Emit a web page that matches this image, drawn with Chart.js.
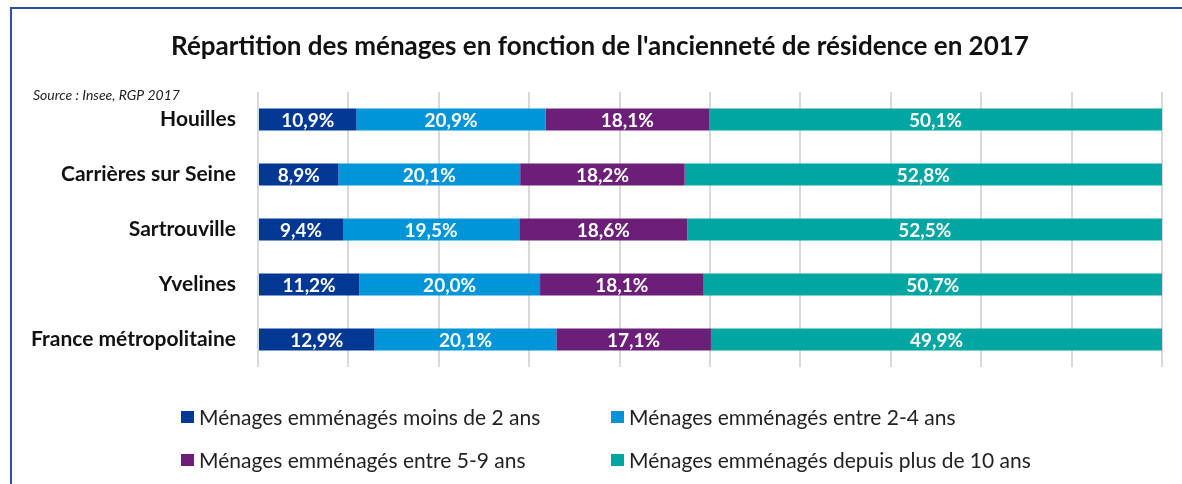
<!DOCTYPE html>
<html>
<head>
<meta charset="utf-8">
<script src="https://cdn.jsdelivr.net/npm/chart.js@4/dist/chart.umd.min.js"></script>
<style>
    body { margin: 0; background: #fff; font-family: Lato, sans-serif; }
    #wrap { position: relative; width: 1182px; height: 484px; overflow: hidden; }
    #frame { position: absolute; left: 10px; top: 7px; right: -5px; bottom: -5px;
        border-left: 2px solid #2f50a0; border-top: 2px solid #2f50a0; }
    #legend { position: absolute; left: 181px; top: 395px; display: grid;
        grid-template-columns: 430px auto; grid-auto-rows: 43px; font-size: 21px; color: #222; }
    #legend div { display: flex; align-items: center; }
    #legend span.box { width: 13px; height: 12px; margin-right: 5px; display: inline-block; }
</style>
</head>
<body>
<div id="wrap">
    <canvas id="myChart" width="1182" height="484"></canvas>
    <div id="frame"></div>
    <div id="legend"></div>
</div>
<script>
var categories = ["Houilles", "Carrières sur Seine", "Sartrouville", "Yvelines", "France métropolitaine"];
var seriesNames = [
    "Ménages emménagés moins de 2 ans",
    "Ménages emménagés entre 2-4 ans",
    "Ménages emménagés entre 5-9 ans",
    "Ménages emménagés depuis plus de 10 ans"
];
var lessThan2 = [10.9, 8.9, 9.4, 11.2, 12.9];
var from2to4 = [20.9, 20.1, 19.5, 20.0, 20.1];
var from5to9 = [18.1, 18.2, 18.6, 18.1, 17.1];
var moreThan10 = [50.1, 52.8, 52.5, 50.7, 49.9];
var colors = ["#003893", "#0094d9", "#6c1f78", "#00a6a2"];
var titleText = "Répartition des ménages en fonction de l'ancienneté de résidence en 2017";
var sourceText = "Source : Insee, RGP 2017";

var allSeries = [lessThan2, from2to4, from5to9, moreThan10];
var datasets = [];
for (var i = 0; i < allSeries.length; i++) {
    datasets.push({
        label: seriesNames[i],
        data: allSeries[i],
        backgroundColor: colors[i],
        borderWidth: 0,
        barPercentage: 0.4,
        categoryPercentage: 1
    });
}

function fmt(v) {
    return v.toFixed(1).replace(".", ",") + "%";
}

// title, source note and the white value labels in each segment
var labelsPlugin = {
    id: 'segmentLabels',
    afterDatasetsDraw: function (chart) {
        var ctx = chart.ctx;
        ctx.save();
        ctx.font = "bold 19px Lato";
        ctx.fillStyle = "#fff";
        ctx.textAlign = "center";
        ctx.textBaseline = "middle";
        chart.data.datasets.forEach(function (ds, di) {
            var meta = chart.getDatasetMeta(di);
            meta.data.forEach(function (bar, j) {
                var cx = (bar.x + bar.base) / 2;
                ctx.fillText(fmt(ds.data[j]), cx, bar.y + 1);
            });
        });

        ctx.font = "bold 26px Lato";
        ctx.fillStyle = "#111";
        ctx.fillText(titleText, 600, 47);

        ctx.font = "italic 14px Lato";
        ctx.fillStyle = "#222";
        ctx.textAlign = "left";
        ctx.fillText(sourceText, 33, 95);
        ctx.restore();
    }
};

var ctx = document.getElementById('myChart').getContext('2d');
var chart = new Chart(ctx, {
    type: 'bar',
    data: {
        labels: categories,
        datasets: datasets
    },
    options: {
        indexAxis: 'y',
        responsive: false,
        animation: false,
        layout: { padding: { left: 0, right: 20, top: 92, bottom: 117 } },
        plugins: {
            legend: { display: false },
            tooltip: { enabled: false },
            title: { display: false }
        },
        scales: {
            x: {
                stacked: true,
                min: 0,
                max: 100,
                ticks: { display: false, stepSize: 10 },
                grid: { color: "#d9d9d9", lineWidth: 2, drawTicks: false },
                border: { display: false },
                afterFit: function (scale) { scale.height = 0; }
            },
            y: {
                stacked: true,
                grid: { display: false, drawTicks: false },
                border: { display: false },
                ticks: { color: "#111", padding: 22, font: { family: "Lato", size: 21, weight: "bold" } },
                afterFit: function (scale) { scale.width = 258; }
            }
        }
    },
    plugins: [labelsPlugin]
});

var legend = document.getElementById('legend');
for (var k = 0; k < seriesNames.length; k++) {
    var item = document.createElement('div');
    item.innerHTML = '<span class="box" style="background:' + colors[k] + '"></span>' + seriesNames[k];
    legend.appendChild(item);
}
</script>
</body>
</html>
